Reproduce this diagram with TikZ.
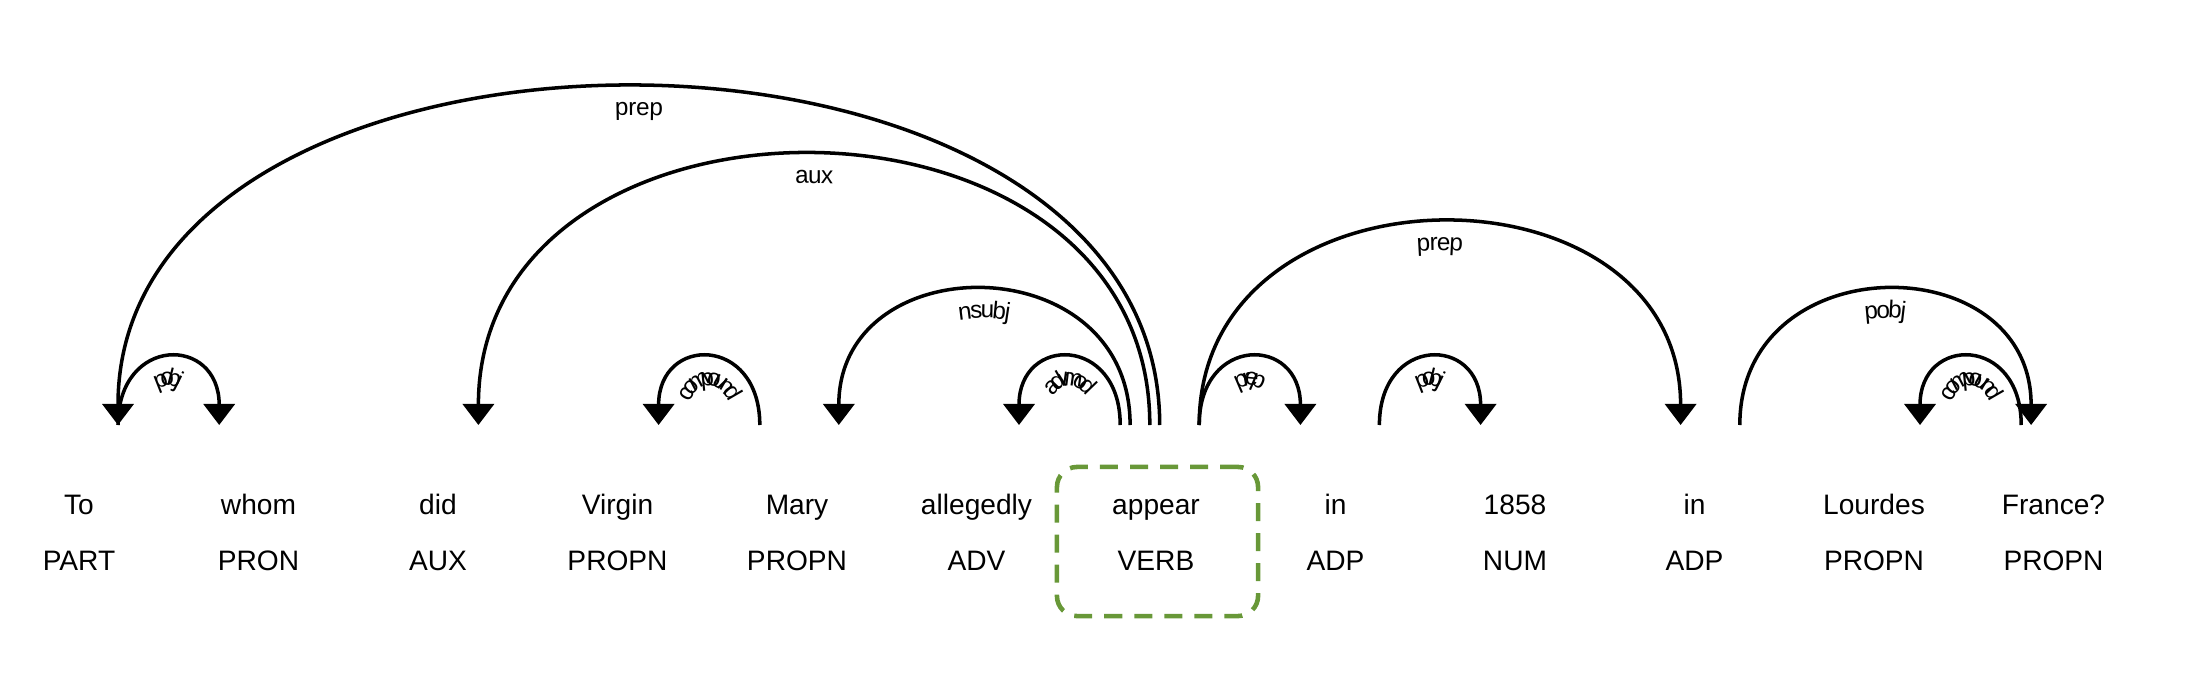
\documentclass[tikz,border=0pt]{standalone}
\usepackage{fontspec}
\setmainfont{Liberation Sans}
\usetikzlibrary{arrows.meta,decorations.text}

\newcommand\lblfont{\fontsize{6.9}{8}\selectfont}
\definecolor{focusgreen}{RGB}{104,152,56}

\tikzset{
  word/.style={anchor=base, inner sep=0pt, font=\fontsize{8}{9.6}\selectfont},
  arc/.style={line width=1pt},
  toright/.style={arc, -{Triangle[width=3.1mm,length=2.1mm]}},
  toleft/.style={arc, {Triangle[width=3.1mm,length=2.1mm]}-},
  deplabel/.style={postaction={decorate, decoration={text along path,
      text align=center, raise=-2.8mm, text={|\lblfont|#1}}}},
  focusbox/.style={draw=focusgreen, line width=1.3pt, rounded corners=2mm,
      dash pattern=on 1.8mm off 1.2mm, minimum width=2.01cm, minimum height=1.49cm}
}

\begin{document}
\begin{tikzpicture}[x=0.01cm, y=0.01cm]
  \useasboundingbox (0,0) rectangle (2188,678);

  % words and tags
  \node[word] (To) at (79,164) {To};
  \node[word] (whom) at (258.5,164) {whom};
  \node[word] (did) at (438,164) {did};
  \node[word] (Virgin) at (617.5,164) {Virgin};
  \node[word] (Mary) at (797,164) {Mary};
  \node[word] (allegedly) at (976.5,164) {allegedly};
  \node[word] (appear) at (1156,164) {appear};
  \node[word] (in) at (1335.5,164) {in};
  \node[word] (n1858) at (1515,164) {1858};
  \node[word] (in2) at (1694.5,164) {in};
  \node[word] (Lourdes) at (1874,164) {Lourdes};
  \node[word] (France) at (2053.5,164) {France?};

  \node[word] (To-tag) at (79,108) {PART};
  \node[word] (whom-tag) at (258.5,108) {PRON};
  \node[word] (did-tag) at (438,108) {AUX};
  \node[word] (Virgin-tag) at (617.5,108) {PROPN};
  \node[word] (Mary-tag) at (797,108) {PROPN};
  \node[word] (allegedly-tag) at (976.5,108) {ADV};
  \node[word] (appear-tag) at (1156,108) {VERB};
  \node[word] (in-tag) at (1335.5,108) {ADP};
  \node[word] (n1858-tag) at (1515,108) {NUM};
  \node[word] (in2-tag) at (1694.5,108) {ADP};
  \node[word] (Lourdes-tag) at (1874,108) {PROPN};
  \node[word] (France-tag) at (2053.5,108) {PROPN};

  \node[focusbox] (focus) at (1157.5,136.5) {};

  % arc ends
  \coordinate (To-l) at (118,253);
  \coordinate (did-l) at (478.4,253);
  \coordinate (Virgin-l) at (658.6,253);
  \coordinate (Mary-l) at (838.8,253);
  \coordinate (allegedly-l) at (1019,253);
  \coordinate (appear-l) at (1199.2,253);
  \coordinate (in-l) at (1379.4,253);
  \coordinate (in2-l) at (1739.8,253);
  \coordinate (Lourdes-l) at (1920,253);
  \coordinate (whom-r) at (219.2,253);
  \coordinate (Mary-r) at (759.8,253);
  \coordinate (appear-r1) at (1120.2,253);
  \coordinate (appear-r2) at (1130.1,253);
  \coordinate (appear-r4) at (1149.8,253);
  \coordinate (appear-r5) at (1159.7,253);
  \coordinate (in-r) at (1300.4,253);
  \coordinate (n1858-r) at (1480.6,253);
  \coordinate (in2-r) at (1680.6,253);
  \coordinate (France-r1) at (2021.2,253);
  \coordinate (France-r2) at (2031.1,253);

  % dependency arcs
  \draw[toright, deplabel=pobj] (To-l) .. controls +(0,90) and +(0,90) .. (whom-r);
  \draw[toleft, deplabel=prep] (To-l) .. controls +(0,450) and +(0,450) .. (appear-r5);
  \draw[toleft, deplabel=aux] (did-l) .. controls +(0,360) and +(0,360) .. (appear-r4);
  \draw[toleft, deplabel=compound] (Virgin-l) .. controls +(0,90) and +(0,90) .. (Mary-r);
  \draw[toleft, deplabel=nsubj] (Mary-l) .. controls +(0,180) and +(0,180) .. (appear-r2);
  \draw[toleft, deplabel=advmod] (allegedly-l) .. controls +(0,90) and +(0,90) .. (appear-r1);
  \draw[toright, deplabel=prep] (appear-l) .. controls +(0,90) and +(0,90) .. (in-r);
  \draw[toright, deplabel=pobj] (in-l) .. controls +(0,90) and +(0,90) .. (n1858-r);
  \draw[toright, deplabel=prep] (appear-l) .. controls +(0,270) and +(0,270) .. (in2-r);
  \draw[toright, deplabel=pobj] (in2-l) .. controls +(0,180) and +(0,180) .. (France-r2);
  \draw[toleft, deplabel=compound] (Lourdes-l) .. controls +(0,90) and +(0,90) .. (France-r1);
\end{tikzpicture}
\end{document}
